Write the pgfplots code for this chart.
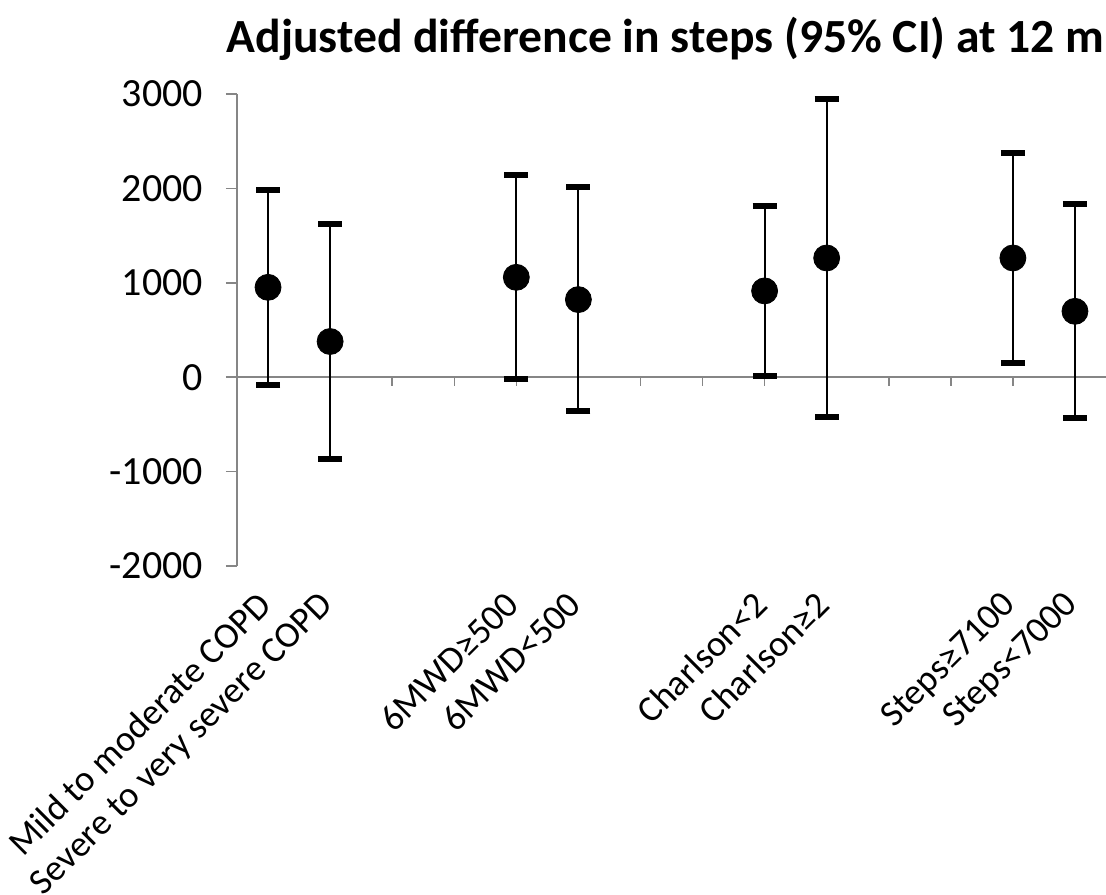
\documentclass[border=0pt]{standalone}
\usepackage{pgfplots}
\usepackage{pgfplotstable}
\pgfplotsset{compat=1.18}
\usepackage{fontspec}
\setmainfont{Carlito}
\definecolor{axisgray}{HTML}{868686}
\pgfplotstableread{
x y lo hi
0 952 -80 1986
1 378 -871 1623
4 1058 -24 2138
5 822 -363 2011
8 914 11 1814
9 1263 -426 2952
12 1263 152 2378
13 698 -437 1835
}\data
\begin{document}
\begin{tikzpicture}
\useasboundingbox (-118.5pt,-164pt) rectangle (434.5pt,283pt);
\clip (-118.5pt,-164pt) rectangle (434.5pt,283pt);
\begin{axis}[
  at={(0,0)}, anchor=south west,
  scale only axis, width=434.5pt, height=236pt,
  xmin=-0.5, xmax=13.5, ymin=-2000, ymax=3000,
  clip=false,
  axis x line*=bottom, axis y line*=left,
  x axis line style={draw=none},
  xtick={0,1,4,5,8,9,12,13},
  xticklabels={Mild to moderate COPD, Severe to very severe COPD, 6MWD≥500, 6MWD<500, Charlson<2, Charlson≥2, Steps≥7100, Steps<7000},
  x tick style={draw=none},
  ytick={-2000,-1000,0,1000,2000,3000},
  yticklabels={-2000,-1000,0,1000,2000,3000},
  y axis line style={axisgray, line width=0.75pt},
  y tick style={axisgray, line width=0.75pt},
  tick align=outside, major tick length=5.5pt,
  yticklabel style={font=\fontsize{20}{24}\selectfont, xshift=-8pt},
  xticklabel style={xshift=-6.5pt, yshift=-6pt, rotate=45, anchor=north east, inner sep=0pt, font=\fontsize{18.3}{22}\selectfont},
  title={Adjusted difference in steps (95\% CI) at 12 m},
  title style={font=\bfseries\fontsize{23.8}{28}\selectfont, at={(0.5,1)}, anchor=base, xshift=-3pt, yshift=14.5pt, inner sep=0pt},
]
\draw[axisgray, line width=0.75pt] (axis cs:-0.5,0) -- (axis cs:13.5,0);
\pgfplotsinvokeforeach{0,...,13}{\draw[axisgray, line width=0.75pt] (axis cs:#1,0) -- ([yshift=-4.5pt]axis cs:#1,0);}
\addplot[only marks, mark=*, mark size=6.5pt, black,
  error bars/.cd, y dir=both, y explicit,
  error bar style={line width=1pt, black},
  error mark options={rotate=90, line width=3pt, mark size=6pt, black}]
  table[x=x, y=y, y error plus expr=\thisrow{hi}-\thisrow{y}, y error minus expr=\thisrow{y}-\thisrow{lo}] {\data};
\end{axis}
\end{tikzpicture}
\end{document}
